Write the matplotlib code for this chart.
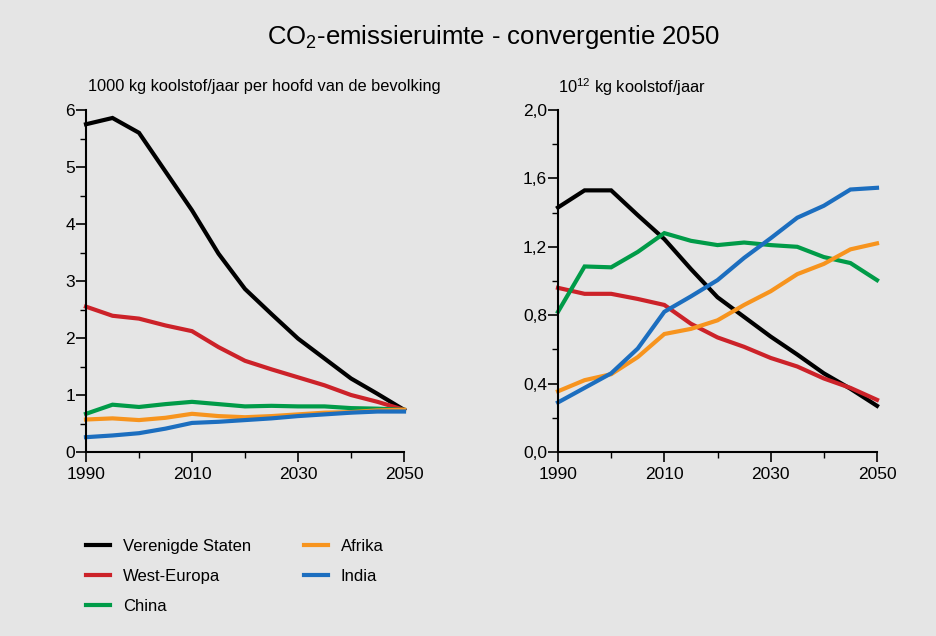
import matplotlib
matplotlib.use('Agg')
import matplotlib.pyplot as plt
from matplotlib.ticker import MultipleLocator, FixedLocator, FuncFormatter

plt.rcParams['font.family'] = ['Liberation Sans', 'DejaVu Sans']
plt.rcParams['mathtext.fontset'] = 'custom'
plt.rcParams['mathtext.rm'] = 'Liberation Sans'
plt.rcParams['mathtext.it'] = 'Liberation Sans'

years = [1990, 1995, 2000, 2005, 2010, 2015, 2020, 2025, 2030, 2035, 2040, 2045, 2050]
names = ['Verenigde Staten', 'West-Europa', 'China', 'Afrika', 'India']
colors = ['#000000', '#cc2229', '#009b48', '#f7941e', '#1c6ebf']

# per hoofd (1000 kg C per persoon per jaar)
us_cap = [5.75, 5.86, 5.60, 4.92, 4.24, 3.48, 2.86, 2.42, 1.99, 1.64, 1.29, 1.02, 0.74]
we_cap = [2.55, 2.39, 2.34, 2.22, 2.12, 1.84, 1.60, 1.45, 1.31, 1.17, 1.00, 0.88, 0.74]
cn_cap = [0.67, 0.83, 0.79, 0.84, 0.88, 0.84, 0.80, 0.81, 0.80, 0.80, 0.77, 0.76, 0.74]
af_cap = [0.57, 0.59, 0.56, 0.60, 0.67, 0.63, 0.61, 0.63, 0.66, 0.69, 0.70, 0.73, 0.74]
in_cap = [0.26, 0.29, 0.33, 0.41, 0.51, 0.53, 0.56, 0.59, 0.63, 0.66, 0.69, 0.71, 0.71]

# totaal (10^12 kg C per jaar)
us_tot = [1.43, 1.53, 1.53, 1.385, 1.245, 1.07, 0.905, 0.79, 0.675, 0.57, 0.46, 0.37, 0.27]
we_tot = [0.96, 0.925, 0.925, 0.895, 0.86, 0.75, 0.67, 0.615, 0.55, 0.50, 0.43, 0.375, 0.305]
cn_tot = [0.82, 1.085, 1.08, 1.17, 1.28, 1.235, 1.21, 1.225, 1.21, 1.20, 1.14, 1.105, 1.005]
af_tot = [0.355, 0.42, 0.455, 0.555, 0.69, 0.72, 0.77, 0.86, 0.94, 1.04, 1.10, 1.185, 1.22]
in_tot = [0.29, 0.375, 0.46, 0.605, 0.82, 0.91, 1.005, 1.135, 1.25, 1.37, 1.44, 1.535, 1.545]

bg = '#e5e5e5'
fig = plt.figure(figsize=(9.36, 6.36), dpi=100, facecolor=bg)
W, H = 936, 636
ax1 = fig.add_axes([86 / W, 1 - 452 / H, (404 - 86) / W, (452 - 110) / H])
ax2 = fig.add_axes([558 / W, 1 - 452 / H, (877 - 558) / W, (452 - 110) / H])


def style(ax, ymax, major, minor, fmt):
    ax.set_facecolor(bg)
    ax.set_xlim(1990, 2050)
    ax.set_ylim(0, ymax)
    for s in ['top', 'right']:
        ax.spines[s].set_visible(False)
    for s in ['left', 'bottom']:
        ax.spines[s].set_linewidth(1.5)
    ax.xaxis.set_major_locator(FixedLocator([1990, 2010, 2030, 2050]))
    ax.xaxis.set_minor_locator(FixedLocator([2000, 2020, 2040]))
    ax.yaxis.set_major_locator(MultipleLocator(major))
    ax.yaxis.set_minor_locator(MultipleLocator(minor))
    ax.yaxis.set_major_formatter(FuncFormatter(fmt))
    ax.tick_params(which='major', direction='out', length=7, width=1.2, labelsize=12.5, pad=4)
    ax.tick_params(which='minor', direction='out', length=4, width=1.0)
    ax.tick_params(axis='y', which='major', pad=1)


style(ax1, 6, 1, 0.5, lambda v, p: '%d' % round(v))
style(ax2, 2.0, 0.4, 0.2, lambda v, p: ('%.1f' % v).replace('.', ','))

for ys, c, n in zip([us_cap, we_cap, cn_cap, af_cap, in_cap], colors, names):
    ax1.plot(years, ys, color=c, lw=3, label=n, clip_on=False, solid_joinstyle='miter')
for ys, c in zip([us_tot, we_tot, cn_tot, af_tot, in_tot], colors):
    ax2.plot(years, ys, color=c, lw=3, clip_on=False, solid_joinstyle='miter')

fig.text(493 / W, 1 - 37 / H, 'CO$_2$-emissieruimte - convergentie 2050',
         ha='center', va='center', fontsize=18.5)
fig.text(88 / W, 1 - 87 / H, '1000 kg koolstof/jaar per hoofd van de bevolking',
         ha='left', va='center', fontsize=11.8)
fig.text(558 / W, 1 - 87 / H, '10$^{12}$ kg koolstof/jaar',
         ha='left', va='center', fontsize=11.8)

handles, labels = ax1.get_legend_handles_labels()
leg = fig.legend(handles, labels, ncol=2, loc='upper left',
                 bbox_to_anchor=(86 / W, 1 - 539 / H), frameon=False,
                 borderpad=0, borderaxespad=0,
                 fontsize=12, handlelength=1.45, handletextpad=0.75,
                 columnspacing=3.2, labelspacing=0.9)

fig.savefig('out.png', dpi=100, facecolor=bg)
